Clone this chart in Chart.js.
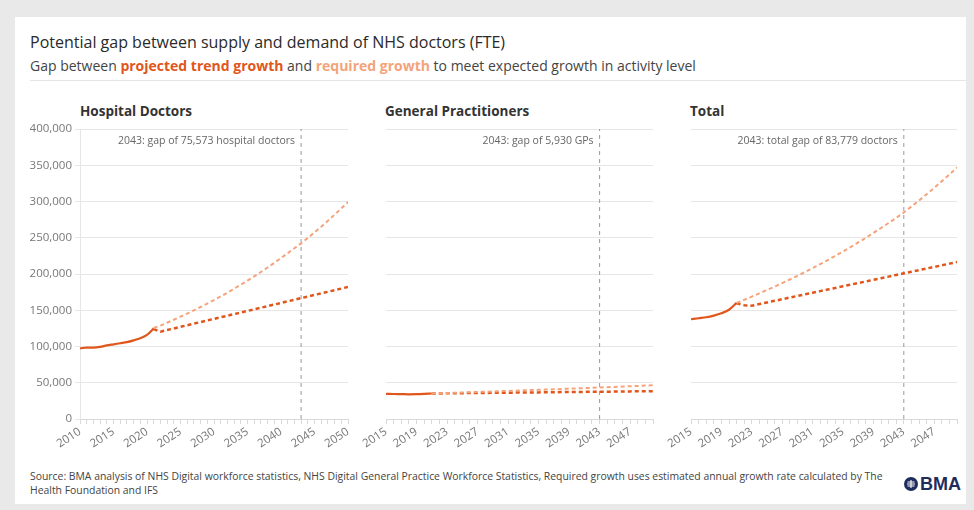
<!DOCTYPE html>
<html>
<head>
<meta charset="utf-8">
<script src="https://cdn.jsdelivr.net/npm/chart.js@4.4.1/dist/chart.umd.min.js"></script>
<style>
  body { margin: 0; width: 974px; height: 510px; overflow: hidden; background: #e9e9e9;
         font-family: "Open Sans", sans-serif; color: #333; }
  #card { position: absolute; left: 15px; top: 17px; width: 951px; height: 487px; background: #fff; }
  .txt { position: absolute; white-space: nowrap; }
  #title { left: 30px; top: 31px; font-size: 16px; color: #2a2a2a; }
  #sub { left: 30px; top: 56px; font-size: 14px; color: #444; }
  #sub .trend { color: #e0561b; font-weight: bold; }
  #sub .req { color: #f4a37a; font-weight: bold; }
  #rule { position: absolute; left: 30px; top: 80px; width: 936px; height: 1px; background: #e6e6e6; }
  .ptitle { top: 102px; font-size: 13.5px; font-weight: bold; color: #333; }
  #source { left: 30px; top: 469px; font-size: 10.4px; line-height: 14px; color: #444; }
  #logo { position: absolute; left: 904px; top: 475px; height: 18px; display: flex; align-items: center; }
  #logo span { font-family: "Liberation Sans", sans-serif; font-weight: bold; font-size: 18px; color: #1f2d5c; margin-left: 2px; }
  canvas { position: absolute; left: 0; top: 0; pointer-events: none; }
</style>
</head>
<body>
<div id="card"></div>
<div class="txt" id="title">Potential gap between supply and demand of NHS doctors (FTE)</div>
<div class="txt" id="sub">Gap between <span class="trend">projected trend growth</span> and <span class="req">required growth</span> to meet expected growth in activity level</div>
<div id="rule"></div>
<div class="txt ptitle" style="left:80px">Hospital Doctors</div>
<div class="txt ptitle" style="left:385px">General Practitioners</div>
<div class="txt ptitle" style="left:690px">Total</div>
<div class="txt" id="source">Source: BMA analysis of NHS Digital workforce statistics, NHS Digital General Practice Workforce Statistics, Required growth uses estimated annual growth rate calculated by The<br>Health Foundation and IFS</div>
<div id="logo">
  <svg width="14" height="14" viewBox="0 0 14 14">
    <circle cx="7" cy="7" r="7" fill="#1f2d5c"/>
    <path d="M3.5 5h7M3 7h8M3.5 9h7M7 3v8" stroke="#fff" stroke-width="1.1" fill="none"/>
  </svg>
  <span>BMA</span>
</div>
<canvas id="c1" width="974" height="510"></canvas>
<canvas id="c2" width="974" height="510"></canvas>
<canvas id="c3" width="974" height="510"></canvas>
<script>
// -------- Datos (miles de FTE) --------
const hospYears = [2010, 2011, 2012, 2013, 2014, 2015, 2016, 2017, 2018, 2019, 2020, 2021];
const hospActual = [97.5, 98.5, 98.5, 99.5, 101.5, 103, 104.5, 106, 108.5, 111.5, 116, 125];

const gpYears = [2015, 2016, 2017, 2018, 2019, 2020, 2021];
const gpActual = [34.6, 34.5, 34.3, 34.1, 34.3, 34.7, 35.2];
const totalActual = [137.6, 139.0, 140.3, 142.6, 145.8, 150.7, 160.2];

const projYears = [2021, 2022, 2023, 2024, 2025, 2026, 2027, 2028, 2029, 2030,
                   2031, 2032, 2033, 2034, 2035, 2036, 2037, 2038, 2039, 2040,
                   2041, 2042, 2043, 2044, 2045, 2046, 2047, 2048, 2049, 2050];

const hospTrend = [124, 120.5, 122.7, 124.9, 127.1, 129.3, 131.5, 133.7, 135.9, 138.1,
                   140.3, 142.5, 144.7, 146.9, 149.1, 151.3, 153.5, 155.7, 157.9, 160.1,
                   162.3, 164.5, 166.7, 168.9, 171.1, 173.3, 175.5, 177.7, 179.9, 182.1];
const hospRequired = [125.5, 128.8, 132.8, 136.9, 141.1, 145.4, 149.9, 154.5, 159.2, 164.1,
                      169.1, 174.3, 179.7, 185.2, 190.9, 196.8, 202.8, 209.0, 215.4, 222.0,
                      228.8, 235.6, 242.3, 249.7, 257.4, 265.3, 273.4, 281.8, 290.4, 299.3];

const gpTrend = [35.2, 35.3, 35.4, 35.5, 35.6, 35.8, 35.9, 36.0, 36.1, 36.2,
                 36.3, 36.4, 36.5, 36.6, 36.7, 36.9, 37.0, 37.1, 37.2, 37.3,
                 37.4, 37.5, 37.6, 37.7, 37.8, 38.0, 38.1, 38.2, 38.3, 38.4];
const gpRequired = [35.2, 35.5, 35.9, 36.2, 36.6, 36.9, 37.3, 37.6, 38.0, 38.4,
                    38.7, 39.1, 39.5, 39.9, 40.2, 40.6, 41.0, 41.4, 41.8, 42.2,
                    42.6, 43.0, 43.5, 43.9, 44.3, 44.7, 45.2, 45.6, 46.1, 46.5];

const totalTrend = [159.5, 157.0, 156.3, 158.5, 160.8, 163.0, 165.2, 167.5, 169.7, 171.9,
                    174.1, 176.4, 178.6, 180.8, 183.1, 185.3, 187.5, 189.7, 192.0, 194.2,
                    196.4, 198.7, 200.9, 203.1, 205.4, 207.6, 209.8, 212.0, 214.3, 216.5];
const totalRequired = [160.2, 164.4, 168.8, 173.3, 177.9, 182.6, 187.4, 192.4, 197.5, 202.7,
                       208.1, 213.6, 219.3, 225.1, 231.1, 237.2, 243.5, 249.9, 256.6, 263.4,
                       270.3, 277.5, 284.9, 293.0, 301.4, 310.0, 318.8, 327.9, 337.2, 346.8];

const markerYear = 2043;
const yTicks = [0, 50000, 100000, 150000, 200000, 250000, 300000, 350000, 400000];

const DARK = "#e0561b";
const LIGHT = "#f4a37a";

Chart.defaults.font.family = '"Open Sans", sans-serif';
Chart.defaults.color = "#777";

const pts = (xs, ys) => xs.map((x, i) => ({ x: x, y: ys[i] * 1000 }));

// texto de la brecha junto a la linea de 2043
const notePlugin = {
  id: "note",
  afterDatasetsDraw(chart, args, opts) {
    const { ctx, chartArea, scales } = chart;
    const x = scales.x.getPixelForValue(markerYear);
    ctx.save();
    ctx.font = '10.5px "Open Sans", sans-serif';
    ctx.fillStyle = "#666";
    ctx.textAlign = "right";
    ctx.textBaseline = "middle";
    ctx.fillText(opts.text, x - 6, chartArea.top + 12);
    ctx.restore();
  }
};

function makePanel(id, cfg) {
  const datasets = [
    { data: pts(projYears, cfg.required), borderColor: LIGHT, borderWidth: 2, borderDash: [4, 3] },
    { data: pts(projYears, cfg.trend), borderColor: DARK, borderWidth: 2.5, borderDash: [4, 3] },
    { data: pts(cfg.years, cfg.actual), borderColor: DARK, borderWidth: 2.2, cubicInterpolationMode: "monotone" },
    { data: [{ x: markerYear, y: yTicks[0] }, { x: markerYear, y: yTicks[yTicks.length - 1] }],
      borderColor: "#9a9a9a", borderWidth: 1, borderDash: [4, 4] }
  ];
  new Chart(document.getElementById(id), {
    type: "line",
    data: { datasets },
    plugins: [notePlugin],
    options: {
      responsive: false,
      animation: false,
      layout: { padding: cfg.padding },
      elements: { point: { radius: 0 } },
      plugins: { legend: { display: false }, tooltip: { enabled: false }, note: { text: cfg.note } },
      scales: {
        x: {
          type: "linear", min: cfg.xMin, max: cfg.xMax,
          afterFit: s => { s.height = 40; },
          grid: { drawOnChartArea: false, color: "#d9d9d9", tickLength: 5 },
          border: { color: "#d9d9d9" },
          ticks: {
            stepSize: 1, autoSkip: false, maxRotation: 33, minRotation: 33, padding: 1,
            font: { size: 11.5 }, color: "#777",
            callback: v => ((v - cfg.xMin) % cfg.labelStep === 0 ? String(v) : "")
          }
        },
        y: {
          min: 0, max: 400000,
          afterFit: s => { s.width = cfg.showY ? 50 : 0; },
          afterBuildTicks: s => { s.ticks = yTicks.map(v => ({ value: v })); },
          grid: { color: "#e6e6e6", drawTicks: cfg.showY, tickLength: 5 },
          border: { display: cfg.showY, color: "#e6e6e6" },
          ticks: {
            display: cfg.showY, padding: 3, font: { size: 11.5 }, color: "#777",
            callback: v => v.toLocaleString("en-GB")
          }
        }
      }
    }
  });
}

makePanel("c1", {
  years: hospYears, actual: hospActual, trend: hospTrend, required: hospRequired,
  xMin: 2010, xMax: 2050, labelStep: 5, showY: true,
  note: "2043: gap of 75,573 hospital doctors",
  padding: { left: 30, right: 974 - 348, top: 129, bottom: 510 - 419 - 40 }
});
makePanel("c2", {
  years: gpYears, actual: gpActual, trend: gpTrend, required: gpRequired,
  xMin: 2015, xMax: 2050, labelStep: 4, showY: false,
  note: "2043: gap of 5,930 GPs",
  padding: { left: 386, right: 974 - 653, top: 129, bottom: 510 - 419 - 40 }
});
makePanel("c3", {
  years: gpYears, actual: totalActual, trend: totalTrend, required: totalRequired,
  xMin: 2015, xMax: 2050, labelStep: 4, showY: false,
  note: "2043: total gap of 83,779 doctors",
  padding: { left: 691, right: 974 - 957, top: 129, bottom: 510 - 419 - 40 }
});
</script>
</body>
</html>
